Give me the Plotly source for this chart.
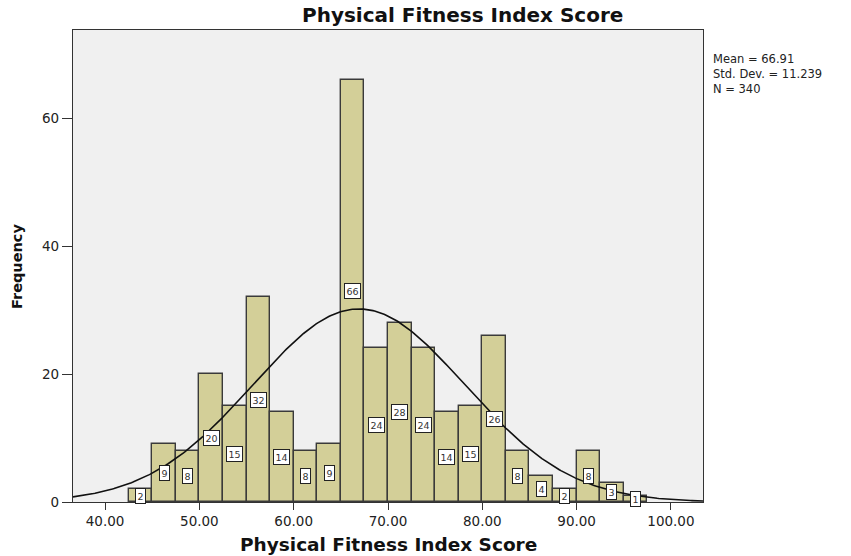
import numpy as np
import plotly.graph_objects as go

# Histogram of Physical Fitness Index Score (bin width 2.5)
bin_left = [42.5, 45.0, 47.5, 50.0, 52.5, 55.0, 57.5, 60.0, 62.5, 65.0, 67.5,
            70.0, 72.5, 75.0, 77.5, 80.0, 82.5, 85.0, 87.5, 90.0, 92.5, 95.0]
counts = [2, 9, 8, 20, 15, 32, 14, 8, 9, 66, 24,
          28, 24, 14, 15, 26, 8, 4, 2, 8, 3, 1]
bin_width = 2.5

mean_val = 66.91
std_dev = 11.239
n_obs = 340

x_ticks = [40, 50, 60, 70, 80, 90, 100]
x_tick_text = ["40.00", "50.00", "60.00", "70.00", "80.00", "90.00", "100.00"]
y_ticks = [0, 20, 40, 60]

X_RANGE = [36.6, 103.4]
Y_RANGE = [0, 73.75]

centers = [b + bin_width / 2 for b in bin_left]

# Normal curve scaled to counts
xc = np.linspace(X_RANGE[0], X_RANGE[1], 400)
yc = n_obs * bin_width * np.exp(-0.5 * ((xc - mean_val) / std_dev) ** 2) / (std_dev * np.sqrt(2 * np.pi))

fig = go.Figure()
fig.add_trace(go.Bar(
    x=centers, y=counts, width=bin_width,
    marker=dict(color="#D3CF98", line=dict(color="#3a3a3a", width=1.4)),
    hoverinfo="x+y", showlegend=False,
))
fig.add_trace(go.Scatter(
    x=xc, y=yc, mode="lines",
    line=dict(color="#111111", width=1.6),
    hoverinfo="skip", showlegend=False,
))

font_main = "DejaVu Sans"

# Boxed count labels at half bar height
for c, v in zip(centers, counts):
    fig.add_annotation(
        x=c, y=v / 2, xref="x", yref="y", text=str(v), showarrow=False,
        font=dict(family=font_main, size=9.5, color="#333333"),
        bgcolor="white", bordercolor="#222222", borderwidth=1, borderpad=1.5,
    )

fig.add_annotation(
    xref="paper", yref="paper", x=0.619, y=1.0318, text="<b>Physical Fitness Index Score</b>",
    showarrow=False, xanchor="center", yanchor="middle",
    font=dict(family=font_main, size=20, color="#111111"),
)
fig.add_annotation(
    xref="paper", yref="paper", x=0.5, y=-0.089, text="<b>Physical Fitness Index Score</b>",
    showarrow=False, xanchor="center", yanchor="middle",
    font=dict(family=font_main, size=18.5, color="#111111"),
)
fig.add_annotation(
    xref="paper", yref="paper", x=-0.0889, y=0.5, text="<b>Frequency</b>",
    showarrow=False, xanchor="center", yanchor="middle", textangle=-90,
    font=dict(family=font_main, size=14.5, color="#111111"),
)

# Summary statistics block beside the plot
stats_lines = [f"Mean = {mean_val:.2f}", f"Std. Dev. = {std_dev:.3f}", f"N = {n_obs}"]
fig.add_annotation(
    xref="paper", yref="paper", x=1.0127, y=0.9075, text="<br>".join(stats_lines),
    showarrow=False, xanchor="left", yanchor="middle", align="left",
    font=dict(family=font_main, size=11.5, color="#222222"),
)

fig.update_layout(
    width=851, height=556,
    margin=dict(l=73, r=148, t=30, b=54),
    paper_bgcolor="white", plot_bgcolor="#F0F0F0",
    bargap=0,
    xaxis=dict(
        range=X_RANGE, tickvals=x_ticks, ticktext=x_tick_text,
        ticks="outside", ticklen=7, tickwidth=1.4, tickcolor="#333333",
        showgrid=False, zeroline=False,
        showline=True, linecolor="#333333", linewidth=1.4, mirror=True,
        tickfont=dict(family=font_main, size=13.5, color="#222222"),
    ),
    yaxis=dict(
        range=Y_RANGE, tickvals=y_ticks,
        ticks="outside", ticklen=10, tickwidth=1.4, tickcolor="#333333",
        showgrid=False, zeroline=False,
        showline=True, linecolor="#333333", linewidth=1.4, mirror=True,
        tickfont=dict(family=font_main, size=13.5, color="#222222"),
    ),
)

fig.write_html("out.html")
